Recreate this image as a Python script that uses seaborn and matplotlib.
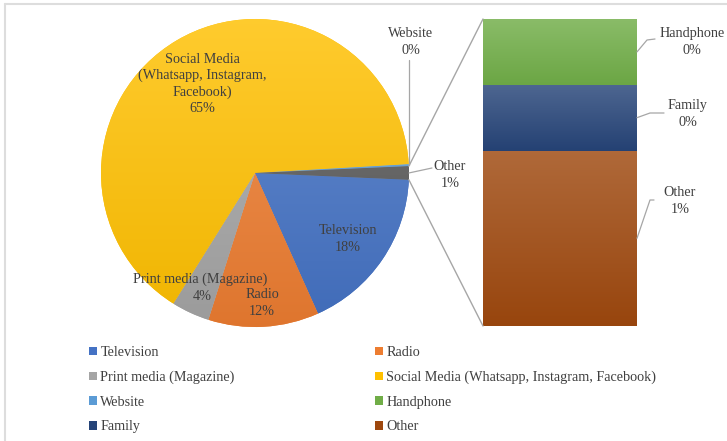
import numpy as np
import matplotlib
matplotlib.use("Agg")
import matplotlib.pyplot as plt
import seaborn as sns
from matplotlib.colors import LinearSegmentedColormap, to_rgb
from matplotlib.patches import ConnectionPatch, Patch
from matplotlib.lines import Line2D

# ---- data -------------------------------------------------------------
pie_sources = ["Television", "Radio", "Print media (Magazine)",
               "Social Media (Whatsapp, Instagram, Facebook)", "Website"]
pie_values = [17.6, 11.6, 4.0, 65.2, 0.2]

# breakdown of the "Other" slice, bottom to top of the stacked bar
bar_sources = ["Other", "Family", "Handphone"]
bar_values = [0.8, 0.3, 0.3]

pie_colors = ["#4472C4", "#ED7D31", "#A5A5A5", "#FFC000", "#5B9BD5"]
other_slice_color = "#595959"
bar_colors = {"Other": "#9E480E", "Family": "#264478", "Handphone": "#70AD47"}

legend_col1 = ["Television", "Print media (Magazine)", "Website", "Family"]
legend_col2 = ["Radio", "Social Media (Whatsapp, Instagram, Facebook)",
               "Handphone", "Other"]

# ---- style ------------------------------------------------------------
sns.set_theme(style="white")
plt.rcParams["font.family"] = ["Liberation Serif", "DejaVu Serif"]
TXT = "#404040"
FS = 10.2
LS = 1.32

W, H = 727, 441
fig = plt.figure(figsize=(W / 100, H / 100), dpi=100, facecolor="white")


def fpx(x, y):
    """pixel position (top-left origin) -> figure fraction"""
    return x / W, 1 - y / H


def to_fig(ax, pt):
    return fig.transFigure.inverted().transform(ax.transData.transform(pt))


def shade(color, top=0.18, bottom=0.06):
    c = np.array(to_rgb(color))
    light = c + (1 - c) * top
    dark = c * (1 - bottom)
    return LinearSegmentedColormap.from_list("g", [dark, light])


# chart border
fig.add_artist(Line2D([5 / W, 5 / W], [0, 1 - 4 / H], transform=fig.transFigure,
                      color="#DDDDDD", lw=1.5))
fig.add_artist(Line2D([5 / W, 1], [1 - 4 / H, 1 - 4 / H], transform=fig.transFigure,
                      color="#DDDDDD", lw=1.5))

# ---- pie ---------------------------------------------------------------
R = 154
cx, cy = 255, 173
ax = fig.add_axes([(cx - R) / W, (H - cy - R) / H, 2 * R / W, 2 * R / H])
values = pie_values + [sum(bar_values)]
colors = pie_colors + [other_slice_color]
wedges, _ = ax.pie(values, colors=colors, startangle=-2.5, counterclock=False,
                   radius=1, wedgeprops=dict(linewidth=0))
grad = np.linspace(0, 1, 256).reshape(-1, 1)
for w, c in zip(wedges, colors):
    im = ax.imshow(grad, extent=(-1, 1, -1, 1), origin="lower", cmap=shade(c),
                   aspect="auto", zorder=w.get_zorder() + 0.1, interpolation="bilinear")
    im.set_clip_path(w)
ax.set_xlim(-1, 1)
ax.set_ylim(-1, 1)
ax.set_axis_off()

total = sum(values)
pct = [f"{round(v / total * 100)}%" for v in values]

# ---- stacked bar -------------------------------------------------------
bx = fig.add_axes([483 / W, (H - 326) / H, 154 / W, 307 / H])
cum = np.cumsum(bar_values)
for name, top in reversed(list(zip(bar_sources, cum))):
    sns.barplot(x=[""], y=[top], color=bar_colors[name], width=1,
                saturation=1, ax=bx, linewidth=0)
for name, v, top in zip(bar_sources, bar_values, cum):
    bx.imshow(grad, extent=(-0.5, 0.5, top - v, top), origin="lower",
              cmap=shade(bar_colors[name], 0.18, 0.04), aspect="auto",
              zorder=5, interpolation="bilinear")
bx.set_xlim(-0.5, 0.5)
bx.set_ylim(0, cum[-1])
bx.set_axis_off()

# connector lines from the "Other" slice to the bar
ow = wedges[-1]
for ang, yb in [(ow.theta2, cum[-1]), (ow.theta1, 0)]:
    a = np.deg2rad(ang)
    con = ConnectionPatch(xyA=(np.cos(a), np.sin(a)), coordsA=ax.transData,
                          xyB=(-0.5, yb), coordsB=bx.transData,
                          color="#A6A6A6", lw=1.0)
    fig.add_artist(con)

# ---- data labels ------------------------------------------------------
def label(x, y, s):
    fig.text(*fpx(x, y), s, ha="center", va="center", fontsize=FS, color=TXT,
             linespacing=LS)


def leader(pts):
    xs, ys = zip(*pts)
    fig.add_artist(Line2D(xs, ys, transform=fig.transFigure, color="#A6A6A6", lw=0.9))


label(202, 84, f"Social Media\n(Whatsapp, Instagram,\nFacebook)\n{pct[3]}")
label(348, 239, f"{pie_sources[0]}\n{pct[0]}")
label(262, 303, f"{pie_sources[1]}\n{pct[1]}")
# print-media label sits across the radio label, so its two lines are set apart
label(200, 279, pie_sources[2])
label(202, 297, pct[2])
label(411, 42, f"{pie_sources[4]}\n{pct[4]}")
label(450, 175, f"Other\n{pct[5]}")

# website leader: straight up from the thin slice
wm = np.deg2rad((wedges[4].theta1 + wedges[4].theta2) / 2)
p0 = to_fig(ax, (np.cos(wm), np.sin(wm)))
leader([p0, (p0[0], fpx(0, 60)[1])])
# other-slice leader
om = np.deg2rad((ow.theta1 + ow.theta2) / 2)
p0 = to_fig(ax, (np.cos(om), np.sin(om)))
leader([p0, fpx(432, 168)])

# bar labels
bar_pct = [f"{round(v / total * 100)}%" for v in bar_values]
bar_label_pos = {"Handphone": (692, 42), "Family": (688, 114), "Other": (680, 201)}
bar_elbows = {"Handphone": [(647, 40), (655, 39)],
              "Family": [(650, 113), (664, 113)],
              "Other": [(650, 200), (654, 200)]}
for name, v, top, p in zip(bar_sources, bar_values, cum, bar_pct):
    label(*bar_label_pos[name], f"{name}\n{p}")
    a0 = to_fig(bx, (0.5, top - v / 2))
    leader([a0] + [fpx(*e) for e in bar_elbows[name]])

# ---- legend ------------------------------------------------------------
all_colors = dict(zip(pie_sources, pie_colors))
all_colors.update(bar_colors)


def make_legend(names, x):
    handles = [Patch(facecolor=all_colors[n], edgecolor="none") for n in names]
    leg = fig.legend(handles, names, loc="upper left", bbox_to_anchor=fpx(x, 346),
                     frameon=False, fontsize=FS, labelcolor=TXT,
                     handlelength=0.55, handleheight=0.55, handletextpad=0.25,
                     labelspacing=0.82, borderpad=0, borderaxespad=0)
    return leg


make_legend(legend_col1, 89)
make_legend(legend_col2, 375)

fig.savefig("out.png", dpi=100, facecolor="white")
